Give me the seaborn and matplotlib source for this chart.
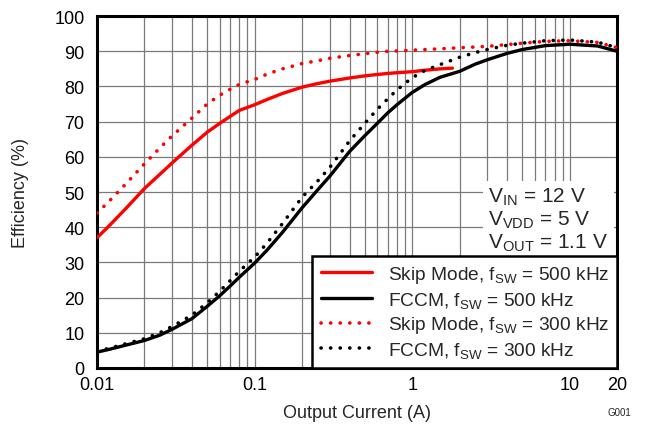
import numpy as np
import pandas as pd
import matplotlib
matplotlib.use("Agg")
import matplotlib.pyplot as plt
import seaborn as sns
from matplotlib.ticker import FixedLocator, NullFormatter

# Output current (A) and efficiency (%)
cur_skip500 = [0.01, 0.012, 0.015, 0.02, 0.025, 0.03, 0.04, 0.05, 0.06, 0.07, 0.08, 0.1, 0.12, 0.15,
               0.2, 0.25, 0.3, 0.4, 0.5, 0.6, 0.7, 0.8, 1.0, 1.2, 1.5, 1.8]
eff_skip500 = [37, 40.5, 45, 51, 55, 58.3, 63.3, 67, 69.5, 71.5, 73.2, 74.8, 76.3, 78,
               79.8, 80.8, 81.5, 82.4, 83, 83.4, 83.7, 83.9, 84.2, 84.6, 85, 85.2]

cur_all = [0.01, 0.012, 0.015, 0.02, 0.025, 0.03, 0.04, 0.05, 0.06, 0.07, 0.08, 0.1, 0.12, 0.15,
           0.2, 0.25, 0.3, 0.4, 0.5, 0.6, 0.7, 0.8, 1.0, 1.2, 1.5, 2.0, 2.5, 3.0, 4.0, 5.0, 7.0,
           10.0, 15.0, 20.0]
eff_fccm500 = [4.5, 5.3, 6.4, 7.8, 9.3, 11, 14, 17.5, 20.5, 23.3, 25.8, 29.8, 33.5, 38.5,
               45.5, 50.5, 54.5, 61.5, 66, 69.5, 72.5, 74.8, 78.3, 80.5, 82.6, 84.3, 86.3, 87.6,
               89.4, 90.5, 91.6, 92, 91.5, 90]
eff_skip300 = [44, 47.5, 52, 58, 62.5, 66, 71, 75, 77.5, 79.2, 80.6, 82, 83.5, 85,
               86.5, 87.3, 88, 88.8, 89.3, 89.7, 90, 90.1, 90.3, 90.5, 90.7, 91, 91.2, 91.4,
               91.9, 92.3, 92.8, 93, 92.5, 91]
eff_fccm300 = [4.8, 5.6, 6.8, 8.3, 10, 11.8, 15, 18.5, 21.8, 24.8, 27.5, 31.5, 35.5, 41,
               48.5, 53, 57, 64.5, 69.5, 73.5, 76.5, 79, 82.5, 84.5, 86.2, 88.3, 89.6, 90.5,
               91.7, 92.3, 93, 93.2, 92.6, 91]

labels = [r"Skip Mode, f$_{SW}$ = 500 kHz", r"FCCM, f$_{SW}$ = 500 kHz",
          r"Skip Mode, f$_{SW}$ = 300 kHz", r"FCCM, f$_{SW}$ = 300 kHz"]

sns.set_style("white")
plt.rcParams['font.family'] = ['Liberation Sans', 'DejaVu Sans']
plt.rcParams['mathtext.default'] = 'regular'

fig = plt.figure(figsize=(6.47, 4.27), dpi=100)
ax = fig.add_axes([0.150, 0.136, 0.804, 0.824])

dot = (0, (0.05, 2.6))
series = [
    (cur_skip500, eff_skip500, 'red', '-', 2.4),
    (cur_all, eff_fccm500, 'black', '-', 2.4),
    (cur_all, eff_skip300, 'red', dot, 2.6),
    (cur_all, eff_fccm300, 'black', dot, 2.6),
]
handles = []
for (x, y, c, ls, lw), lab in zip(series, labels):
    sns.lineplot(x=x, y=y, ax=ax, color=c, linewidth=lw, zorder=3)
    line = ax.lines[-1]
    line.set_linestyle(ls)
    line.set_dash_capstyle('round')
    line.set_solid_capstyle('round')
    line.set_solid_joinstyle('round')
    line.set_label(lab)
    handles.append(line)

ax.set_xscale('log')
ax.set_xlim(0.01, 20)
ax.set_ylim(0, 100)

major = [0.01, 0.1, 1, 10, 20]
ax.xaxis.set_major_locator(FixedLocator(major))
ax.set_xticklabels(['0.01', '0.1', '1', '10', '20'])
minor = [m * d for d in [0.01, 0.1, 1] for m in range(2, 10)] + [10, 20]
ax.xaxis.set_minor_locator(FixedLocator(minor))
ax.xaxis.set_minor_formatter(NullFormatter())
ax.set_yticks(np.arange(0, 101, 10))

ax.grid(True, which='both', color='#7a7a7a', linewidth=0.9)
ax.tick_params(axis='both', which='both', length=0, labelsize=13, colors='black')
ax.tick_params(axis='x', pad=6)
ax.tick_params(axis='y', pad=9)
for s in ax.spines.values():
    s.set_linewidth(2.2)
    s.set_color('black')

ax.set_xlabel('Output Current (A)', fontsize=13, labelpad=8)
ax.set_ylabel('Efficiency (%)', fontsize=13, labelpad=18)

leg = ax.legend(handles=handles, loc='lower right', fontsize=13.8, frameon=True,
                fancybox=False, edgecolor='black', framealpha=1, handlelength=2.7,
                labelspacing=0.24, borderpad=0.42, borderaxespad=0.0, handletextpad=0.8)
leg.get_frame().set_linewidth(1.8)
leg.set_zorder(5)

ax.text(0.752, 0.326, "V$_{IN}$ = 12 V\nV$_{VDD}$ = 5 V\nV$_{OUT}$ = 1.1 V",
        transform=ax.transAxes, fontsize=15, va='bottom', ha='left', linespacing=1.1,
        zorder=4, bbox=dict(facecolor='white', edgecolor='none', pad=4))

fig.text(0.975, 0.02, 'G001', fontsize=7, ha='right', va='bottom')

fig.savefig('out.png', dpi=100)
